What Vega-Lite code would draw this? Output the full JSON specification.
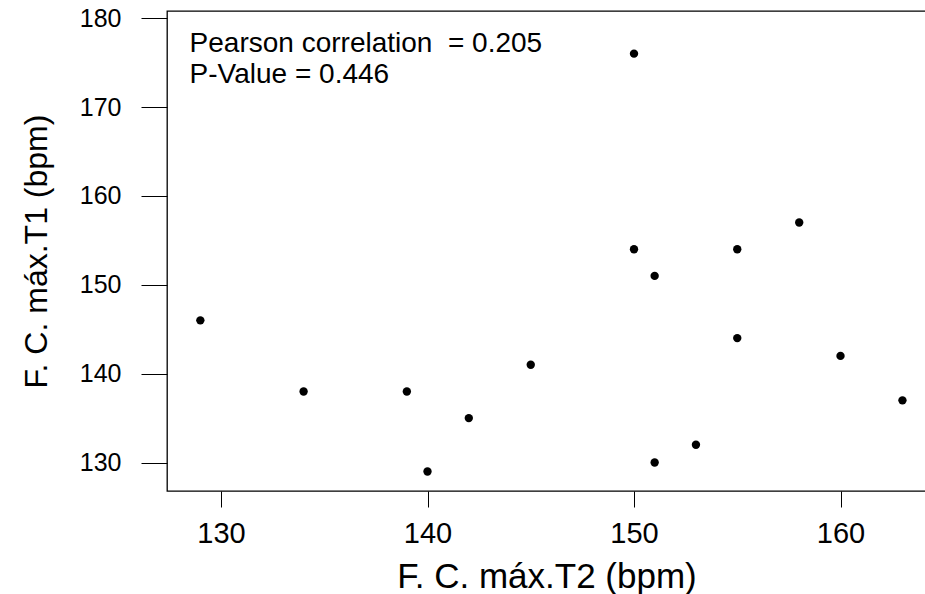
{
  "$schema": "https://vega.github.io/schema/vega-lite/v6.json",
  "width": 759,
  "height": 480,
  "autosize": "none",
  "padding": {"left": 167, "top": 11, "right": 0, "bottom": 103},
  "background": "white",
  "config": {
    "view": {"stroke": "black", "strokeWidth": 1.3},
    "font": "Liberation Sans"
  },
  "layer": [
    {
      "data": {
        "values": [
          {"T2": 129, "T1": 146},
          {"T2": 134, "T1": 138},
          {"T2": 139, "T1": 138},
          {"T2": 140, "T1": 129},
          {"T2": 142, "T1": 135},
          {"T2": 145, "T1": 141},
          {"T2": 150, "T1": 176},
          {"T2": 150, "T1": 154},
          {"T2": 151, "T1": 151},
          {"T2": 151, "T1": 130},
          {"T2": 153, "T1": 132},
          {"T2": 155, "T1": 154},
          {"T2": 155, "T1": 144},
          {"T2": 158, "T1": 157},
          {"T2": 160, "T1": 142},
          {"T2": 163, "T1": 137}
        ]
      },
      "mark": {"type": "point", "filled": true, "color": "black", "size": 70, "opacity": 1},
      "encoding": {
        "x": {
          "field": "T2", "type": "quantitative",
          "scale": {"domain": [127.385, 164.14], "zero": false, "nice": false},
          "axis": {
            "values": [130, 140, 150, 160],
            "title": "F. C. máx.T2 (bpm)",
            "grid": false, "domain": false,
            "tickSize": 16, "tickColor": "black", "tickWidth": 1,
            "labelFontSize": 29, "labelColor": "black", "labelPadding": 12,
            "labelFont": "Liberation Sans",
            "titleFont": "Liberation Sans", "titleFontSize": 35, "titleFontWeight": "normal",
            "titleColor": "black", "titlePadding": 11
          }
        },
        "y": {
          "field": "T1", "type": "quantitative",
          "scale": {"domain": [126.8, 180.8], "zero": false, "nice": false},
          "axis": {
            "values": [130, 140, 150, 160, 170, 180],
            "title": "F. C. máx.T1 (bpm)",
            "grid": false, "domain": false,
            "tickSize": 26, "tickColor": "black", "tickWidth": 1,
            "labelFontSize": 25, "labelColor": "black", "labelPadding": 20,
            "labelFont": "Liberation Sans",
            "titleFont": "Liberation Sans", "titleFontSize": 32, "titleFontWeight": "normal",
            "titleColor": "black", "titlePadding": 26
          }
        }
      }
    },
    {
      "data": {
        "values": [
          {"T2": 128.48, "T1": 176.17, "label": "Pearson correlation \u00a0= 0.205"},
          {"T2": 128.48, "T1": 172.68, "label": "P-Value = 0.446"}
        ]
      },
      "mark": {"type": "text", "align": "left", "baseline": "alphabetic", "fontSize": 28, "font": "Liberation Sans", "color": "black"},
      "encoding": {
        "x": {"field": "T2", "type": "quantitative"},
        "y": {"field": "T1", "type": "quantitative"},
        "text": {"field": "label"}
      }
    }
  ]
}
